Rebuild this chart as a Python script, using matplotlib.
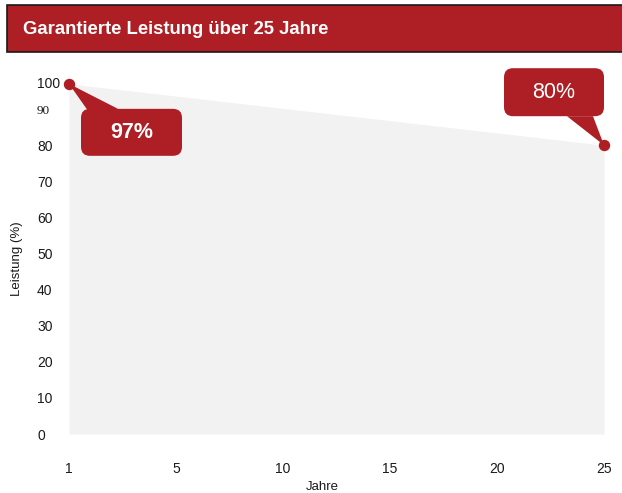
import matplotlib
matplotlib.use("Agg")
import matplotlib.pyplot as plt
from matplotlib.patches import Rectangle, FancyBboxPatch, Polygon
from matplotlib.transforms import IdentityTransform, ScaledTranslation

plt.rcParams["font.family"] = ["Liberation Sans", "DejaVu Sans"]

# ─── Data ───────────────────────────────────────────────
YEAR_TICKS = [1, 5, 10, 15, 20, 25]      # category labels on x
YEARS = [1, 25]
LEISTUNG = [97, 80]                      # guaranteed output in %
CALLOUTS = ["97%", "80%"]
Y_TICKS = list(range(0, 101, 10))

RED = "#ae1f25"
FILL = "#f2f2f2"
W, H = 622, 493

fig = plt.figure(figsize=(W / 100, H / 100), dpi=100)
fig.patch.set_facecolor("white")

def fx(px): return px / W
def fy(py): return 1 - py / H

# title bar
fig.patches.append(Rectangle((fx(7), fy(52)), fx(640) - fx(7), fy(5) - fy(52),
                             transform=fig.transFigure, facecolor=RED,
                             edgecolor="#1a1a1a", linewidth=1.2, zorder=0))
fig.text(fx(23), fy(29), "Garantierte Leistung über 25 Jahre", color="white",
         fontsize=13.3, fontweight="bold", va="center", ha="left")

# axes: x from 69 to 604 px, y 0 at 434 px, 100 at 73 px
ax = fig.add_axes([fx(69), fy(434), fx(604) - fx(69), fy(73) - fy(434)])
xpos = [YEAR_TICKS.index(y) for y in YEARS]
ax.fill_between(xpos, LEISTUNG, 0, color=FILL, linewidth=0, zorder=1)
ax.plot(xpos, LEISTUNG, linestyle="none", marker="o", markersize=7.2,
        color=RED, clip_on=False, zorder=5)

ax.set_xlim(0, len(YEAR_TICKS) - 1)
ax.set_ylim(0, 100)
ax.set_xticks(range(len(YEAR_TICKS)))
ax.set_xticklabels([str(t) for t in YEAR_TICKS])
ax.set_yticks(Y_TICKS)
ax.set_yticklabels([str(t) for t in Y_TICKS])
ax.tick_params(axis="both", length=0, labelsize=10, labelcolor="#1a1a1a")
ax.tick_params(axis="x", pad=20)
ax.tick_params(axis="y", pad=23)
for lbl in ax.get_yticklabels():
    lbl.set_ha("left")
    if lbl.get_text() == "90":
        lbl.set_family("Liberation Serif")
        lbl.set_fontsize(9.5)
    if lbl.get_text() == "100":
        lbl.set_transform(lbl.get_transform() + ScaledTranslation(0, -7 / 72, fig.dpi_scale_trans))
for s in ax.spines.values():
    s.set_visible(False)
ax.set_facecolor("none")

# y label placed directly in pixels
fig.text(fx(17), fy(259), "Leistung (%)", fontsize=9.5, color="#1a1a1a",
         rotation=90, ha="center", va="center")
fig.text(fx(322), fy(487), "Jahre", fontsize=9.5, color="#1a1a1a",
         ha="center", va="center")

# callouts (box offsets in px relative to the point, y up)
fig.canvas.draw()
specs = [
    dict(box=(12, 113, -72, -25), tri=[(19, -27), (49, -25)], bold=True),
    dict(box=(-100, 0, 29, 77), tri=[(-37, 29), (-11, 29)], bold=False),
]
for xp, val, txt, sp in zip(xpos, LEISTUNG, CALLOUTS, specs):
    px, py = ax.transData.transform((xp, val))
    x0, x1, y0, y1 = sp["box"]
    box = FancyBboxPatch((px + x0, py + y0), x1 - x0, y1 - y0,
                         boxstyle="round,pad=0,rounding_size=9",
                         transform=IdentityTransform(), facecolor=RED,
                         edgecolor="none", clip_on=False, zorder=6)
    ax.add_artist(box)
    tri = Polygon([(px, py)] + [(px + a, py + b) for a, b in sp["tri"]],
                  closed=True, transform=IdentityTransform(), facecolor=RED,
                  edgecolor="none", clip_on=False, zorder=6)
    ax.add_artist(tri)
    ax.text(px + (x0 + x1) / 2, py + (y0 + y1) / 2, txt,
            transform=IdentityTransform(), color="white", fontsize=15.5,
            fontweight="bold" if sp["bold"] else "normal",
            ha="center", va="center", zorder=7, clip_on=False)

fig.savefig("out.png", dpi=100, facecolor="white")
